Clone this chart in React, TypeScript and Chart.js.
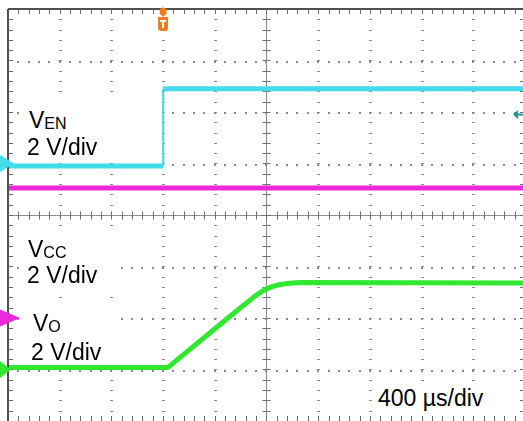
import React, { useEffect, useRef } from "react";
import { Chart, registerables } from "chart.js";

Chart.register(...registerables);

// Time in µs (400 µs/div, screen centre = 0), screen volts (2 V/div, centre = 0)
const timeEN = [-2000, -800, -800, 1985];
const voltsEN = [1.9, 1.9, 4.9, 4.9];
const timeCC = [-2000, 1985];
const voltsCC = [1.05, 1.05];
const timeO = [-2000, -762, -298, -89, -40, 0, 50, 104, 180, 259, 1985];
const voltsO = [-5.92, -5.92, -4.0, -3.15, -2.98, -2.87, -2.77, -2.7, -2.65, -2.62, -2.64];
const groundLevels = [2.0, -4.0, -6.0];
const triggerTime = -800;
const triggerLevel = 3.9;
const xMin = -2000;
const xMax = 1985;
const xDivEdge = 2000;
const yMin = -8;
const yMax = 8;
const timeDiv = 400;
const voltDiv = 2;
const timeLabel = "400 µs/div";
const channelLabels = ["EN", "CC", "O"];
const scaleLabel = "2 V/div";

const CYAN = "#42dcec";
const MAGENTA = "#ea2ada";
const GREEN = "#30e830";

const toPts = (xs: number[], ys: number[]) => xs.map((x, i) => ({ x, y: ys[i] }));

const gridPlugin = {
  id: "scopeGrid",
  beforeDatasetsDraw(chart: any) {
    const ctx = chart.ctx;
    const xs = chart.scales.x;
    const ys = chart.scales.y;
    ctx.save();
    const top = ys.getPixelForValue(yMax);
    const bottom = ys.getPixelForValue(yMin);
    const left = xs.getPixelForValue(xMin);
    const right = xs.getPixelForValue(xDivEdge);
    const minorX = timeDiv / 5;
    const minorY = voltDiv / 5;
    ctx.fillStyle = "#8a8a8a";
    for (let t = xMin + timeDiv; t < xDivEdge; t += timeDiv) {
      if (Math.abs(t) < 1e-6) continue;
      const px = Math.round(xs.getPixelForValue(t));
      for (let v = yMin + minorY; v < yMax - 1e-6; v += minorY) {
        const py = Math.round(ys.getPixelForValue(v));
        ctx.fillRect(px - 1, py, 3, 1);
      }
    }
    for (let v = yMin + voltDiv; v < yMax; v += voltDiv) {
      if (Math.abs(v) < 1e-6) continue;
      const py = Math.round(ys.getPixelForValue(v));
      for (let t = xMin + minorX; t < xDivEdge - 1e-6; t += minorX) {
        const px = Math.round(xs.getPixelForValue(t));
        ctx.fillRect(px - 1, py, 2, 2);
      }
    }
    const cx = Math.round(xs.getPixelForValue(0)) + 0.5;
    const cy = Math.round(ys.getPixelForValue(0)) + 0.5;
    ctx.strokeStyle = "#8c8c8c";
    ctx.lineWidth = 1;
    ctx.beginPath();
    ctx.moveTo(left, cy);
    ctx.lineTo(right, cy);
    ctx.moveTo(cx, top);
    ctx.lineTo(cx, bottom);
    ctx.stroke();
    ctx.strokeStyle = "#707070";
    ctx.beginPath();
    for (let t = xMin + minorX; t < xDivEdge; t += minorX) {
      const px = Math.round(xs.getPixelForValue(t)) + 0.5;
      ctx.moveTo(px, cy - 4);
      ctx.lineTo(px, cy + 4);
    }
    for (let v = yMin + minorY; v < yMax; v += minorY) {
      const py = Math.round(ys.getPixelForValue(v)) + 0.5;
      ctx.moveTo(cx - 4, py);
      ctx.lineTo(cx + 4, py);
    }
    ctx.stroke();
    ctx.restore();
  },
  afterDatasetsDraw(chart: any) {
    const ctx = chart.ctx;
    const xs = chart.scales.x;
    const ys = chart.scales.y;
    const top = ys.getPixelForValue(yMax);
    const bottom = ys.getPixelForValue(yMin);
    const left = xs.getPixelForValue(xMin);
    const right = xs.getPixelForValue(xDivEdge);
    const minorX = timeDiv / 5;
    const minorY = voltDiv / 5;
    ctx.save();
    ctx.strokeStyle = "#505050";
    ctx.lineWidth = 2;
    ctx.beginPath();
    ctx.moveTo(left, top);
    ctx.lineTo(right, top);
    ctx.moveTo(left, top);
    ctx.lineTo(left, bottom);
    ctx.stroke();
    ctx.lineWidth = 1;
    ctx.strokeStyle = "#6a6a6a";
    ctx.beginPath();
    for (let t = xMin + minorX; t < xDivEdge; t += minorX) {
      const px = Math.round(xs.getPixelForValue(t)) + 0.5;
      ctx.moveTo(px, top);
      ctx.lineTo(px, top + 5);
      ctx.moveTo(px, bottom);
      ctx.lineTo(px, bottom - 5);
    }
    for (let v = yMin + minorY; v < yMax; v += minorY) {
      const py = Math.round(ys.getPixelForValue(v)) + 0.5;
      ctx.moveTo(left, py);
      ctx.lineTo(left + 5, py);
      ctx.moveTo(right, py);
      ctx.lineTo(right - 5, py);
    }
    ctx.stroke();
    const markerColors = [CYAN, MAGENTA, GREEN];
    const markerWidths = [14, 20, 11];
    groundLevels.forEach((lv, i) => {
      const py = ys.getPixelForValue(lv);
      ctx.fillStyle = markerColors[i];
      ctx.beginPath();
      ctx.moveTo(0, py - 8.5);
      ctx.lineTo(markerWidths[i], py);
      ctx.lineTo(0, py + 8.5);
      ctx.closePath();
      ctx.fill();
    });
    const tx = xs.getPixelForValue(triggerTime);
    ctx.fillStyle = "#f07a1e";
    ctx.beginPath();
    ctx.arc(tx, top + 2, 3.5, 0, Math.PI * 2);
    ctx.fill();
    ctx.beginPath();
    ctx.moveTo(tx - 4, top + 4);
    ctx.lineTo(tx + 4, top + 4);
    ctx.lineTo(tx, top + 8);
    ctx.closePath();
    ctx.fill();
    const rx = tx - 5, ry = top + 8, rw = 10, rh = 14;
    ctx.beginPath();
    ctx.moveTo(rx, ry);
    ctx.lineTo(rx + rw, ry);
    ctx.lineTo(rx + rw, ry + rh - 3);
    ctx.quadraticCurveTo(rx + rw, ry + rh, rx + rw - 3, ry + rh);
    ctx.lineTo(rx + 3, ry + rh);
    ctx.quadraticCurveTo(rx, ry + rh, rx, ry + rh - 3);
    ctx.closePath();
    ctx.fill();
    ctx.fillStyle = "#ffffff";
    ctx.fillRect(tx - 3, ry + 3, 6, 2);
    ctx.fillRect(tx - 1, ry + 3, 2, 8);
    const ly = ys.getPixelForValue(triggerLevel);
    const ax = xs.getPixelForValue(xMax);
    ctx.fillStyle = "#1c9a9c";
    ctx.beginPath();
    ctx.moveTo(ax - 10, ly);
    ctx.lineTo(ax - 5, ly - 4.5);
    ctx.lineTo(ax - 5, ly + 4.5);
    ctx.closePath();
    ctx.fill();
    ctx.fillRect(ax - 6, ly - 1, 6, 2);
    ctx.restore();
  },
};

const FONT = '"Liberation Sans", Arial, Helvetica, sans-serif';
const FS = 23;
const SUB = 16;

function Text({ left, baseline, children }: { left: number; baseline: number; children: any }) {
  return (
    <div
      style={{
        position: "absolute",
        left,
        top: baseline - 19.5,
        fontFamily: FONT,
        fontSize: FS,
        lineHeight: `${FS}px`,
        color: "#000",
        whiteSpace: "nowrap",
      }}
    >
      {children}
    </div>
  );
}

function Box({ left, top, width, height }: { left: number; top: number; width: number; height: number }) {
  return <div style={{ position: "absolute", left, top, width, height, background: "#fff" }} />;
}

function Sub({ children }: { children: any }) {
  return <span style={{ fontSize: SUB, lineHeight: `${SUB}px`, verticalAlign: "-1px" }}>{children}</span>;
}

const thinVertical = (c: any) => (c.p0.parsed.x === c.p1.parsed.x ? 2 : undefined);

export default function App() {
  const ref = useRef<HTMLCanvasElement | null>(null);
  useEffect(() => {
    if (!ref.current) return;
    const chart = new Chart(ref.current, {
      type: "line",
      data: {
        datasets: [
          {
            label: "V_EN",
            data: toPts(timeEN, voltsEN),
            borderColor: CYAN,
            borderWidth: 5,
            pointRadius: 0,
            tension: 0,
            segment: { borderWidth: thinVertical },
          },
          { label: "V_CC", data: toPts(timeCC, voltsCC), borderColor: MAGENTA, borderWidth: 5, pointRadius: 0, tension: 0 },
          { label: "V_O", data: toPts(timeO, voltsO), borderColor: GREEN, borderWidth: 5, pointRadius: 0, tension: 0 },
        ] as any,
      },
      options: {
        animation: false,
        responsive: false,
        maintainAspectRatio: false,
        parsing: false,
        layout: { padding: { left: 8, top: 9, right: 0, bottom: 0 } },
        scales: {
          x: { type: "linear", min: xMin, max: xMax, display: false },
          y: { type: "linear", min: yMin, max: yMax, display: false },
        },
        plugins: { legend: { display: false }, tooltip: { enabled: false } },
        elements: { line: { borderJoinStyle: "round", borderCapStyle: "butt" } },
      } as any,
      plugins: [gridPlugin],
    });
    return () => chart.destroy();
  }, []);
  return (
    <div style={{ position: "absolute", left: 0, top: 0, width: 523, height: 421, overflow: "hidden", background: "#fff" }}>
      <canvas ref={ref} width={523} height={421} style={{ display: "block", width: 523, height: 421 }} />
      <Box left={22} top={102} width={135} height={58} />
      <Box left={22} top={232} width={95} height={57} />
      <Box left={27} top={307} width={88} height={57} />
      <Box left={373} top={384} width={116} height={28} />
      <Text left={29} baseline={128}>V<Sub>{channelLabels[0]}</Sub></Text>
      <Text left={27} baseline={155}>{scaleLabel}</Text>
      <Text left={28} baseline={257}>V<Sub>{channelLabels[1]}</Sub></Text>
      <Text left={27} baseline={283}>{scaleLabel}</Text>
      <Text left={33} baseline={331}>V<Sub>{channelLabels[2]}</Sub></Text>
      <Text left={31} baseline={360}>{scaleLabel}</Text>
      <Text left={378} baseline={406}>{timeLabel}</Text>
    </div>
  );
}
